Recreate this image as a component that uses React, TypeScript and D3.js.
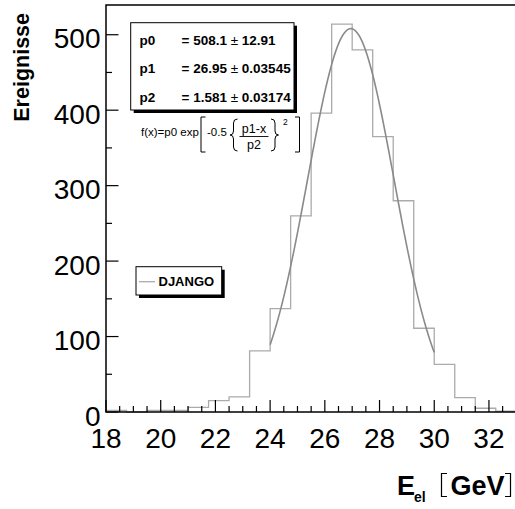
import React from 'react';
import * as d3 from 'd3';

const binEdges = [18, 18.75, 19.5, 20.25, 21, 21.75, 22.5, 23.25, 24, 24.75, 25.5, 26.25, 27, 27.75, 28.5, 29.25, 30, 30.75, 31.5, 32.25, 33];
const binCounts = [2, 0, 2, 2, 6, 15, 20, 81, 137, 260, 396, 514, 480, 365, 280, 111, 63, 19, 5, 1];
const xTicks = [18, 20, 22, 24, 26, 28, 30, 32];
const yTicks = [0, 100, 200, 300, 400, 500];
const fitParams = [508.1, 26.95, 1.581];
const fitRange = [24, 30];
const statNames = ['p0', 'p1', 'p2'];
const statValues = ['508.1', '26.95', '1.581'];
const statErrors = ['12.91', '0.03545', '0.03174'];
const legendLabel = 'DJANGO';
const yTitle = 'Ereignisse';

const FONT = '"Liberation Sans", Arial, Helvetica, sans-serif';

export default function App() {
  const x = d3.scaleLinear().domain([18, 33]).range([106, 516.3]);
  const y = d3.scaleLinear().domain([0, 539.4]).range([412, 5]);

  const xMinor = d3.range(18, 33.01, 0.5).filter((v) => Math.abs(v / 2 - Math.round(v / 2)) > 1e-6);
  const yMinor = d3.range(50, 540, 100);

  const histPts: [number, number][] = [[binEdges[0], 0]];
  binCounts.forEach((c, i) => {
    histPts.push([binEdges[i], c]);
    histPts.push([binEdges[i + 1], c]);
  });
  histPts.push([binEdges[binEdges.length - 1], 0]);
  const line = d3.line<[number, number]>().x((d) => x(d[0])).y((d) => y(d[1]));

  const [p0, p1, p2] = fitParams;
  const fitPts: [number, number][] = d3
    .range(fitRange[0], fitRange[1] + 1e-9, 0.05)
    .map((v) => [v, p0 * Math.exp(-0.5 * ((v - p1) / p2) ** 2)]);

  const x0 = x.range()[0];
  const x1 = x.range()[1];
  const yTop = y.range()[1];
  const yBot = y.range()[0];

  return (
    <svg width={515} height={509} style={{ position: 'absolute', left: 0, top: 0, background: '#fff' }} fontFamily={FONT}>
      <rect x={0} y={0} width={515} height={509} fill="#fff" />
      {/* histogram */}
      <path d={line(histPts) || ''} fill="none" stroke="#ababab" strokeWidth={1.3} />
      {/* fit */}
      <path d={line(fitPts) || ''} fill="none" stroke="#8a8a8a" strokeWidth={1.6} />

      {/* frame */}
      <rect x={x0} y={yTop} width={x1 - x0} height={yBot - yTop} fill="none" stroke="#000" strokeWidth={1.5} />

      {/* x ticks */}
      {xTicks.map((t) => (
        <g key={'xt' + t}>
          <line x1={x(t)} x2={x(t)} y1={yBot} y2={yBot - 12} stroke="#000" strokeWidth={1.2} />
          <text x={x(t)} y={448} fontSize={28} textAnchor="middle" fill="#000">
            {t}
          </text>
        </g>
      ))}
      {xMinor.map((t) => (
        <line key={'xm' + t} x1={x(t)} x2={x(t)} y1={yBot} y2={yBot - 6} stroke="#000" strokeWidth={1.2} />
      ))}

      {/* y ticks */}
      {yTicks.map((t) => (
        <g key={'yt' + t}>
          <line x1={x0} x2={x0 + 12.5} y1={y(t)} y2={y(t)} stroke="#000" strokeWidth={1.2} />
          <text x={100.5} y={y(t) + 13.5} fontSize={28} textAnchor="end" fill="#000">
            {t}
          </text>
        </g>
      ))}
      {yMinor.map((t) => (
        <line key={'ym' + t} x1={x0} x2={x0 + 6} y1={y(t)} y2={y(t)} stroke="#000" strokeWidth={1.2} />
      ))}

      {/* y title */}
      <text transform="translate(28.5,13) rotate(-90)" textAnchor="end" fontSize={21.5} fontWeight="bold" fill="#000">
        {yTitle}
      </text>

      {/* x title */}
      <text x={397} y={495} fontSize={27} fontWeight="bold" fill="#000">E</text>
      <text x={414} y={502} fontSize={14} fontWeight="bold" fill="#000">el</text>
      <path d="M447,473.5 L441.5,473.5 L441.5,496.5 L447,496.5" fill="none" stroke="#000" strokeWidth={1.2} />
      <text x={450.5} y={495} fontSize={27} fontWeight="bold" fill="#000">GeV</text>
      <path d="M505,473.5 L510.5,473.5 L510.5,496.5 L505,496.5" fill="none" stroke="#000" strokeWidth={1.2} />

      {/* stats box */}
      <rect x={133.7} y={25.7} width={163.3} height={87.3} fill="#000" />
      <rect x={130.7} y={22.7} width={163.3} height={87.3} fill="#fff" stroke="#000" strokeWidth={1} />
      {statNames.map((n, i) => (
        <g key={n} fontSize={13.5} fontWeight="bold" fill="#000">
          <text x={139.5} y={44.5 + i * 28.8}>{n}</text>
          <text x={181.5} y={44.5 + i * 28.8}>
            {'= ' + statValues[i] + ' '}
            <tspan fontWeight="normal">±</tspan>
            {' ' + statErrors[i]}
          </text>
        </g>
      ))}

      {/* formula */}
      <g fontSize={11.5} fill="#000">
        <text x={141} y={135.5}>f(x)=p0 exp</text>
        <path d="M205.5,117 L201,117 L201,152 L205.5,152" fill="none" stroke="#000" strokeWidth={1} />
        <text x={207} y={135.5}>-0.5</text>
        <path d="M237.5,119 Q233.5,119 233.5,123 L233.5,131 Q233.5,135 230,135 Q233.5,135 233.5,139 L233.5,147 Q233.5,151 237.5,151" fill="none" stroke="#000" strokeWidth={1} />
        <text x={254} y={133} textAnchor="middle" fontSize={12.5}>p1-x</text>
        <line x1={239.5} x2={268.5} y1={136.5} y2={136.5} stroke="#000" strokeWidth={0.9} />
        <text x={254} y={148.5} textAnchor="middle" fontSize={12.5}>p2</text>
        <path d="M271,119 Q275,119 275,123 L275,131 Q275,135 278.5,135 Q275,135 275,139 L275,147 Q275,151 271,151" fill="none" stroke="#000" strokeWidth={1} />
        <text x={283} y={125} fontSize={8.5}>2</text>
        <path d="M295,117 L299.5,117 L299.5,152 L295,152" fill="none" stroke="#000" strokeWidth={1} />
      </g>

      {/* legend */}
      <rect x={139} y={269.7} width={85.7} height={28.3} fill="#000" />
      <rect x={136} y={266.7} width={85.7} height={28.3} fill="#fff" stroke="#000" strokeWidth={1} />
      <line x1={139} x2={155} y1={281.7} y2={281.7} stroke="#ababab" strokeWidth={1.3} />
      <text x={158.5} y={286} fontSize={13} fontWeight="bold" fill="#000">{legendLabel}</text>
    </svg>
  );
}
